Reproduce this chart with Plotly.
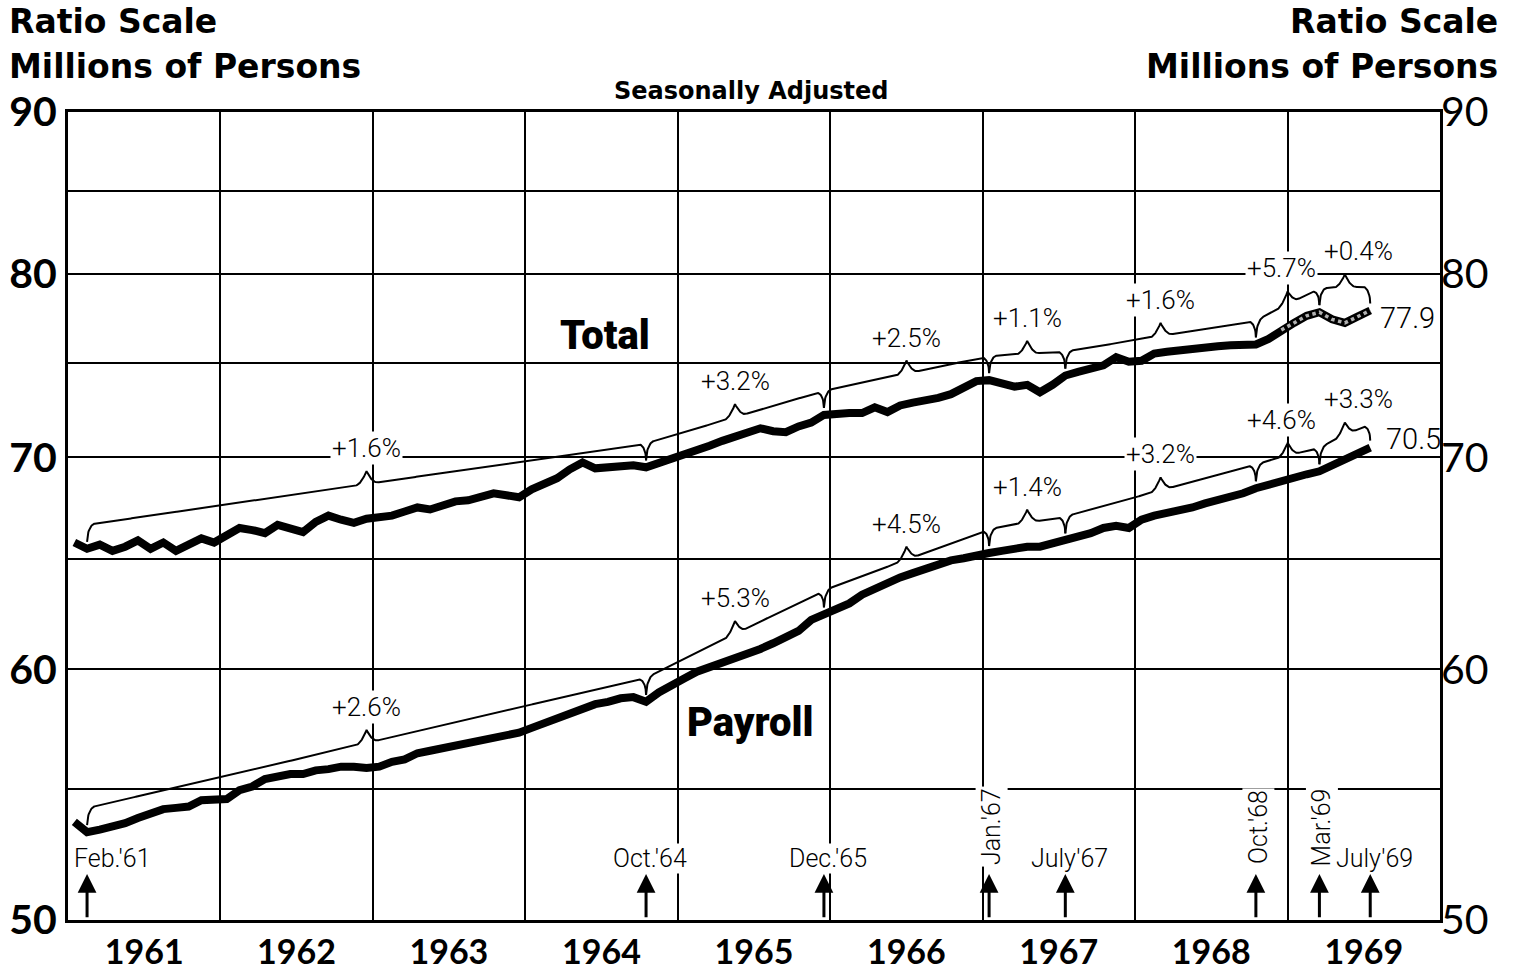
import numpy as np
import pandas as pd
import plotly.graph_objects as go

# ---------------- data (millions of persons, seasonally adjusted, monthly Jan 1961 - Jul 1969)
total = [
    65.8, 65.5, 65.7, 65.4, 65.6, 65.9, 65.5, 65.8, 65.4, 65.7, 66.0, 65.8,      # 1961
    66.1, 66.5, 66.4, 66.25, 66.65, 66.5, 66.3, 66.8, 67.1, 66.9, 66.75, 66.95,  # 1962
    67.05, 67.1, 67.3, 67.5, 67.4, 67.6, 67.8, 67.85, 68.0, 68.2, 68.1, 68.0,    # 1963
    68.4, 68.7, 68.95, 69.4, 69.75, 69.45, 69.5, 69.6, 69.6, 69.5, 69.7, 69.9,   # 1964
    70.1, 70.35, 70.6, 70.85, 71.05, 71.3, 71.5, 71.35, 71.3, 71.6, 71.8, 72.2,  # 1965
    72.3, 72.3, 72.3, 72.6, 72.35, 72.7, 72.85, 72.95, 73.1, 73.3, 73.7, 74.0,   # 1966
    74.05, 73.85, 73.7, 73.8, 73.4, 73.8, 74.3, 74.5, 74.7, 74.85, 75.3, 75.05,  # 1967
    75.1, 75.5, 75.6, 75.7, 75.8, 75.85, 75.9, 75.95, 75.95, 76.0, 76.3, 76.8,   # 1968
    77.2, 77.6, 77.8, 77.4, 77.2, 77.55, 77.9,                                   # 1969
]
payroll = [
    53.7, 53.3, 53.4, 53.5, 53.65, 53.85, 54.0, 54.2, 54.25, 54.3, 54.55, 54.55,  # 1961
    54.6, 54.95, 55.1, 55.4, 55.5, 55.6, 55.6, 55.75, 55.8, 55.9, 55.9, 55.85,    # 1962
    55.9, 56.1, 56.2, 56.45, 56.55, 56.65, 56.8, 56.9, 57.0, 57.1, 57.2, 57.3,    # 1963
    57.5, 57.7, 57.9, 58.1, 58.3, 58.5, 58.6, 58.75, 58.8, 58.6, 59.0, 59.35,     # 1964
    59.6, 59.9, 60.1, 60.25, 60.45, 60.65, 60.9, 61.15, 61.4, 61.7, 62.2, 62.45,  # 1965
    62.65, 62.95, 63.35, 63.65, 63.9, 64.15, 64.35, 64.55, 64.75, 64.95, 65.05, 65.2,  # 1966
    65.3, 65.4, 65.5, 65.6, 65.6, 65.75, 65.9, 66.05, 66.25, 66.5, 66.6, 66.5,    # 1967
    66.9, 67.1, 67.2, 67.35, 67.5, 67.7, 67.85, 68.0, 68.2, 68.45, 68.65, 68.85,  # 1968
    69.0, 69.15, 69.3, 69.6, 69.9, 70.2, 70.5,                                    # 1969
]
arrow_months = ["1961-02", "1964-10", "1965-12", "1967-01", "1967-07", "1968-10", "1969-03", "1969-07"]
arrow_labels = ["Feb.'61", "Oct.'64", "Dec.'65", "Jan.'67", "July'67", "Oct.'68", "Mar.'69", "July'69"]
arrow_vertical = [False, False, False, True, False, True, True, False]
total_pct = ["+1.6%", "+3.2%", "+2.5%", "+1.1%", "+1.6%", "+5.7%", "+0.4%"]
payroll_pct = ["+2.6%", "+5.3%", "+4.5%", "+1.4%", "+3.2%", "+4.6%", "+3.3%"]
grid_values = [50, 55, 60, 65, 70, 75, 80, 85, 90]
labelled_values = [50, 60, 70, 80, 90]
stipple_from = "1968-12"

# ---------------- helpers
BASE = pd.Timestamp("1961-01-01")
END = pd.Timestamp("1970-01-01")
PLOT_H = 808  # plot-area height in px
K = np.log(90 / 50) / PLOT_H  # ln-units per pixel


def mindex(ym):
    y, m = ym.split("-")
    return (int(y) - 1961) * 12 + int(m) - 1


def mdate(t):
    return BASE + pd.Timedelta(days=(t + 0.5) * 365.25 / 12)


x_months = [mdate(i) for i in range(len(total))]

FONT_GEO = "Lato, 'Open Sans', sans-serif"
FONT_HEAD = "'DejaVu Sans', Lato, sans-serif"
FONT_COND = "Roboto, Lato, sans-serif"

OFF, HOOK, CUSP = 24 * K, 17 * K, 13 * K
R_HOOK, S_CUSP = 0.6, 0.9


def brace(vals, i0, i1):
    a = np.log(vals[i0]) + OFF
    b = np.log(vals[i1]) + OFF
    mid = (i0 + i1) / 2
    ts = np.linspace(i0, i1, int((i1 - i0) * 30) + 1)
    out = []
    for t in ts:
        L = a + (t - i0) / (i1 - i0) * (b - a)
        d = 0.0
        u0 = (t - i0) / R_HOOK
        u1 = (i1 - t) / R_HOOK
        if u0 < 1:
            d -= HOOK * (1 - np.sqrt(max(0.0, 1 - (1 - u0) ** 2)))
        if u1 < 1:
            d -= HOOK * (1 - np.sqrt(max(0.0, 1 - (1 - u1) ** 2)))
        v = abs(t - mid) / S_CUSP
        if v < 1:
            d += CUSP * (1 - v) ** 2
        out.append((mdate(t), np.exp(L + d)))
    top = np.exp(a + (mid - i0) / (i1 - i0) * (b - a) + CUSP)
    return out, (mdate(mid), top)


fig = go.Figure()

# ---------------- series lines
fig.add_trace(go.Scatter(x=x_months, y=total, mode="lines",
                         line=dict(color="black", width=8), hoverinfo="skip"))
s0 = mindex(stipple_from)
fig.add_trace(go.Scatter(x=x_months[s0:], y=total[s0:], mode="lines",
                         line=dict(color="#b0b0b0", width=3.5, dash="dot"), hoverinfo="skip"))
fig.add_trace(go.Scatter(x=x_months, y=payroll, mode="lines",
                         line=dict(color="black", width=8), hoverinfo="skip"))

# ---------------- braces with percentage changes
ann = []
idx = [mindex(m) for m in arrow_months]
npct = len(total_pct)
for vals, pcts in ((total, total_pct), (payroll, payroll_pct)):
    bx, by = [], []
    for k, pct in enumerate(pcts):
        pts, (cx, cy) = brace(vals, idx[k], idx[k + 1])
        bx += [p[0] for p in pts] + [None]
        by += [p[1] for p in pts] + [None]
        xs = 14 if k == npct - 1 else (-6 if k == npct - 2 else 0)
        ann.append(dict(x=cx, y=np.log10(cy), xref="x", yref="y", text=pct, showarrow=False,
                        xanchor="center", yanchor="middle", xshift=xs, yshift=23,
                        bgcolor="white", borderpad=1,
                        font=dict(family=FONT_COND, size=26, color="black", weight=300)))
    fig.add_trace(go.Scatter(x=bx, y=by, mode="lines", line=dict(color="black", width=2),
                             hoverinfo="skip", connectgaps=False))

# dummy trace for right axis
fig.add_trace(go.Scatter(x=[x_months[0]], y=[total[0]], yaxis="y2", mode="markers",
                         marker=dict(opacity=0), hoverinfo="skip"))

# ---------------- end values
ann.append(dict(x=x_months[-1], y=np.log10(total[-1]), text=f"{total[-1]:.1f}", showarrow=False,
                xanchor="left", yanchor="middle", xshift=8, yshift=-8,
                font=dict(family=FONT_COND, size=29, color="black", weight=300)))
ann.append(dict(x=x_months[-1], y=np.log10(payroll[-1]), text=f"{payroll[-1]:.1f}", showarrow=False,
                xanchor="left", yanchor="middle", xshift=14, yshift=9,
                font=dict(family=FONT_COND, size=29, color="black", weight=300)))

# ---------------- arrows and date labels
for lab, t, vert in zip(arrow_labels, idx, arrow_vertical):
    xd = mdate(t)
    ann.append(dict(x=xd, y=np.log10(51.7), ax=xd, ay=np.log10(50.05), xref="x", yref="y",
                    axref="x", ayref="y", text="", showarrow=True, arrowhead=2, arrowsize=1.25,
                    arrowwidth=3, arrowcolor="black"))
    if vert:
        ann.append(dict(x=xd, y=np.log10(53.5), text=lab, textangle=-90, showarrow=False,
                        xanchor="center", yanchor="middle", xshift=3, bgcolor="white",
                        font=dict(family=FONT_COND, size=25, color="black", weight=300)))
    else:
        extra = dict(xanchor="left", xshift=-14) if t == idx[0] else dict(xanchor="center", xshift=4)
        ann.append(dict(x=xd, y=np.log10(52.3), text=lab, showarrow=False, yanchor="middle",
                        bgcolor="white", borderpad=0,
                        font=dict(family=FONT_COND, size=25, color="black", weight=300), **extra))

# ---------------- series names
ann.append(dict(x=0.3914, y=0.7228, xref="paper", yref="paper", text="Total", showarrow=False,
                xanchor="center", yanchor="middle",
                font=dict(family=FONT_COND, size=40, color="black", weight=900)))
ann.append(dict(x=0.4971, y=0.245, xref="paper", yref="paper", text="Payroll", showarrow=False,
                xanchor="center", yanchor="middle",
                font=dict(family=FONT_COND, size=40, color="black", weight=900)))

# ---------------- headings
head = dict(family=FONT_HEAD, size=33, color="black", weight="bold")
ann += [
    dict(x=-0.0445, y=1.1126, xref="paper", yref="paper", text="Ratio Scale", showarrow=False,
         xanchor="left", yanchor="middle", font=head),
    dict(x=-0.0445, y=1.0557, xref="paper", yref="paper", text="Millions of Persons", showarrow=False,
         xanchor="left", yanchor="middle", font=head),
    dict(x=1.0437, y=1.1126, xref="paper", yref="paper", text="Ratio Scale", showarrow=False,
         xanchor="right", yanchor="middle", font=head),
    dict(x=1.0437, y=1.0557, xref="paper", yref="paper", text="Millions of Persons", showarrow=False,
         xanchor="right", yanchor="middle", font=head),
    dict(x=0.4985, y=1.0260, xref="paper", yref="paper", text="Seasonally Adjusted", showarrow=False,
         xanchor="center", yanchor="middle",
         font=dict(family=FONT_HEAD, size=24, color="black", weight="bold")),
]

yr = [np.log10(50), np.log10(90)]
fig.update_layout(
    width=1517, height=970,
    margin=dict(l=68, r=77, t=112, b=50, pad=0, autoexpand=False),
    plot_bgcolor="white", paper_bgcolor="white", showlegend=False,
    annotations=ann,
    xaxis=dict(type="date", range=[BASE, END], tick0="1961-01-01", dtick="M12",
               ticklabelmode="period", tickformat="%Y", showgrid=True, gridcolor="black",
               gridwidth=2, showline=True, linecolor="black", linewidth=3, mirror=True,
               ticks="", zeroline=False,
               tickfont=dict(family=FONT_GEO, size=34, color="black", weight="bold")),
    yaxis=dict(type="log", range=yr, autorange=False, tickvals=grid_values,
               ticktext=[str(v) if v in labelled_values else "" for v in grid_values],
               showgrid=True, gridcolor="black", gridwidth=2, showline=True, linecolor="black",
               linewidth=3, mirror=True, ticks="", zeroline=False,
               tickfont=dict(family=FONT_GEO, size=41, color="black", weight="bold")),
    yaxis2=dict(type="log", range=yr, autorange=False, overlaying="y", side="right",
                tickvals=labelled_values, ticktext=[str(v) for v in labelled_values],
                showgrid=False, showline=False, ticks="", zeroline=False,
                tickfont=dict(family=FONT_GEO, size=41, color="black")),
)

fig.write_html("out.html", config={"displayModeBar": False},
               post_script="document.body.style.margin='0px';")
